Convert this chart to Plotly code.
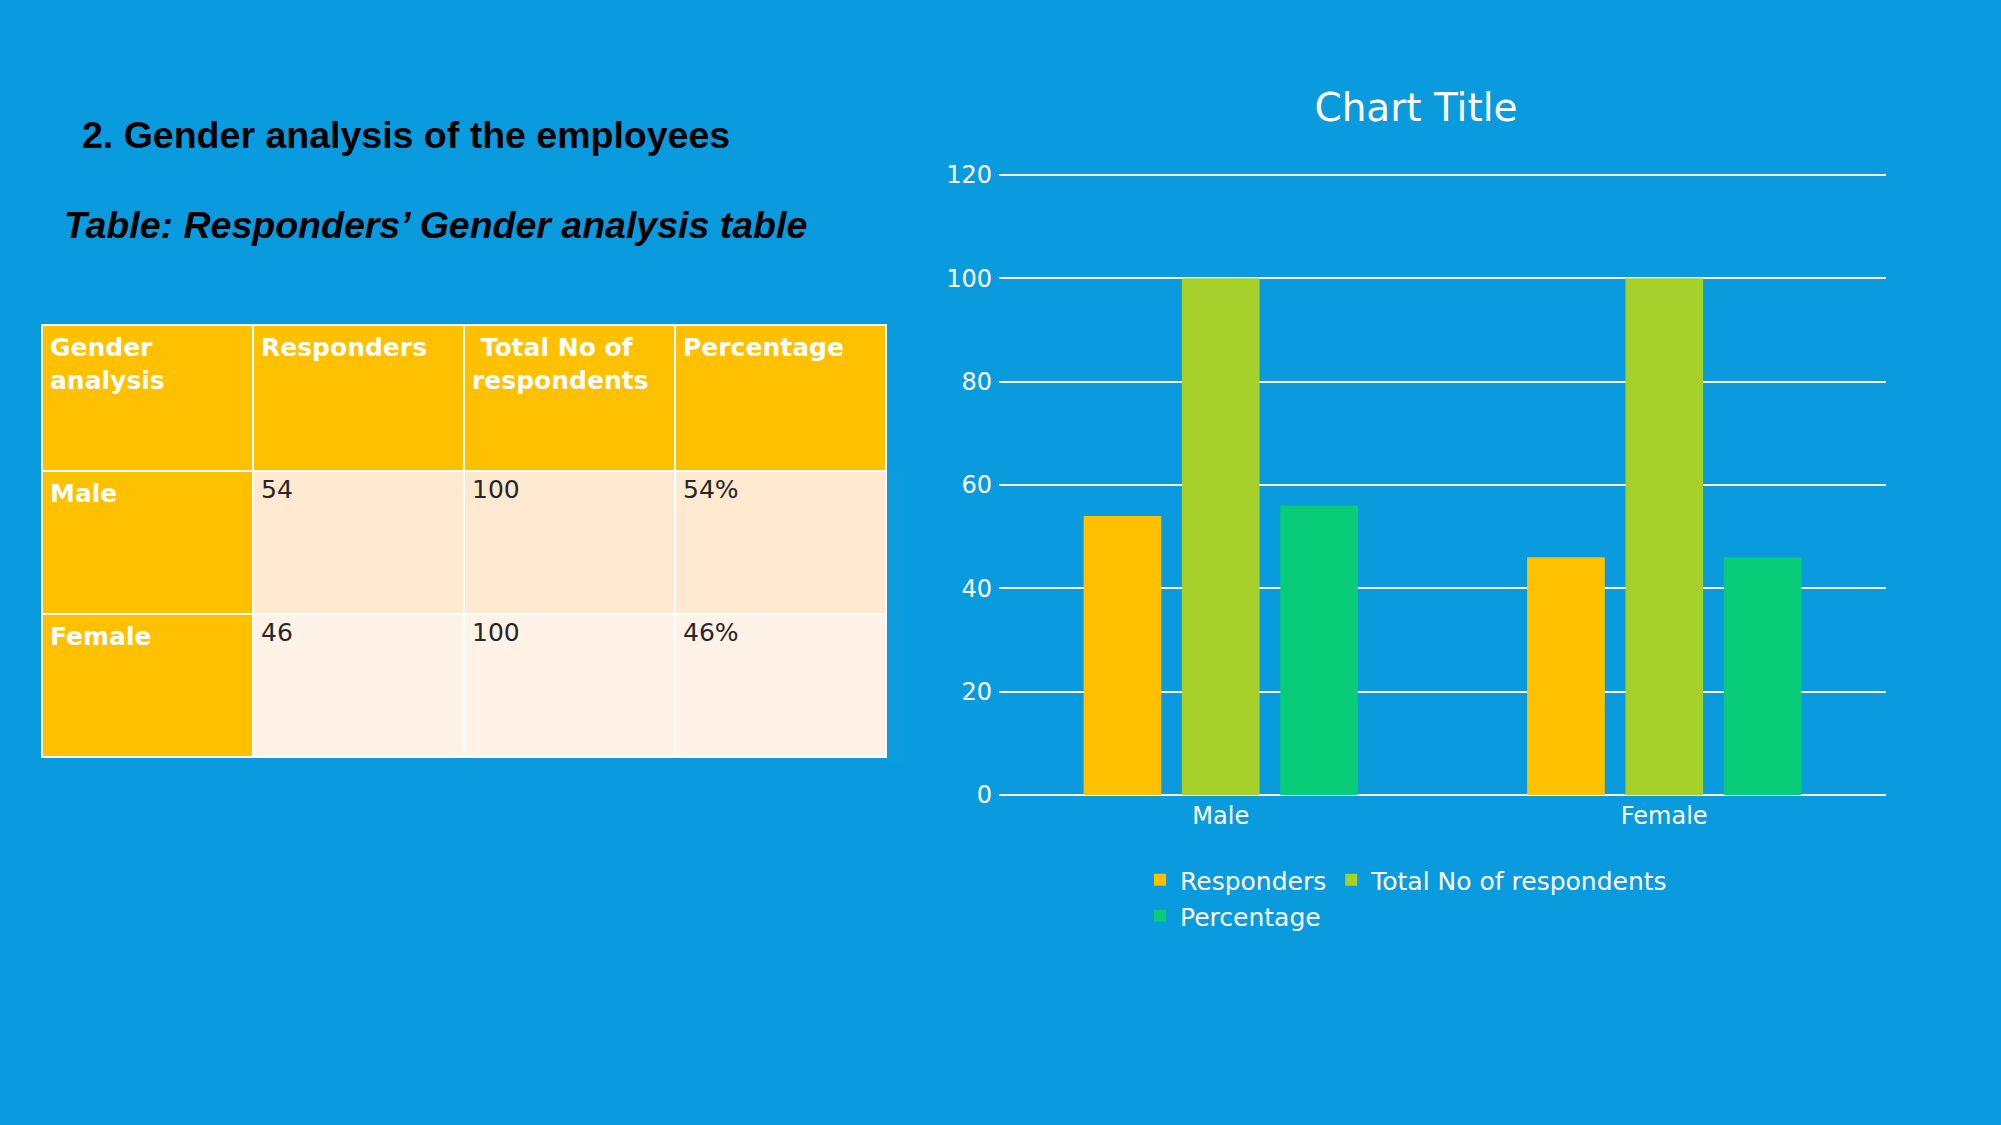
import plotly.graph_objects as go

# ---- data ----
categories = ["Male", "Female"]
responders = [54, 46]
total_respondents = [100, 100]
percentage = [56, 46]

table_header = ["Gender<br>analysis", "Responders", " Total No of<br>respondents", "Percentage"]
table_gender = ["Male", "Female"]
table_responders = ["54", "46"]
table_total = ["100", "100"]
table_percentage = ["54%", "46%"]

y_ticks = [0, 20, 40, 60, 80, 100, 120]

# ---- styles ----
W, H = 2001, 1125
BG = "#0A9BDE"
GOLD = "#FFC000"
LIME = "#A6D12A"
TEAL = "#08CC78"
ROW1 = "#FFE9D0"
ROW2 = "#FFF3E7"
FONT = "DejaVu Sans"


def px_x(x):
    return x / W


def px_y(y):
    return 1 - y / H


fig = go.Figure()

# Table
fig.add_trace(go.Table(
    domain=dict(x=[px_x(42), px_x(886)], y=[px_y(762), px_y(325)]),
    columnwidth=[1, 1, 1, 1],
    header=dict(
        values=["<b>%s</b>" % h for h in table_header],
        fill_color=GOLD,
        line=dict(color="white", width=2),
        font=dict(family=FONT, size=25, color="white"),
        align="left",
        height=146,
    ),
    cells=dict(
        values=[["<b>%s</b>" % g for g in table_gender], table_responders, table_total, table_percentage],
        fill_color=[[GOLD, GOLD], [ROW1, ROW2], [ROW1, ROW2], [ROW1, ROW2]],
        line=dict(color="white", width=2),
        font=dict(family=FONT, size=25,
                  color=[["white", "white"], ["#262626", "#262626"], ["#262626", "#262626"], ["#262626", "#262626"]]),
        align="left",
        height=143,
    ),
))

# Bars
fig.add_trace(go.Bar(name="Responders", x=categories, y=responders, marker_color=GOLD,
                     marker_line_width=0, legend="legend"))
fig.add_trace(go.Bar(name="Total No of respondents", x=categories, y=total_respondents, marker_color=LIME,
                     marker_line_width=0, legend="legend"))
fig.add_trace(go.Bar(name="Percentage", x=categories, y=percentage, marker_color=TEAL,
                     marker_line_width=0, legend="legend2"))

fig.update_layout(
    width=W, height=H,
    margin=dict(l=0, r=0, t=0, b=0, autoexpand=False),
    paper_bgcolor=BG, plot_bgcolor=BG,
    font=dict(family=FONT, color="white", size=24),
    barmode="group", bargap=0.335, bargroupgap=0.21,
    title=dict(text="Chart Title", x=px_x(1416), y=px_y(107), xanchor="center", yanchor="middle",
               font=dict(family=FONT, size=39, color="white")),
    xaxis=dict(domain=[px_x(999), px_x(1886)], showgrid=False, showline=False, ticks="",
               automargin=False, ticklabelstandoff=4,
               tickfont=dict(family=FONT, size=24, color="white")),
    yaxis=dict(domain=[px_y(795), px_y(175 - 620 / 120 * 0.6)], range=[0, 120.6], tickvals=y_ticks,
               showgrid=True, gridcolor="white", gridwidth=1.5,
               zeroline=True, zerolinecolor="white", zerolinewidth=1.5,
               showline=False, ticks="", ticklabelstandoff=6, automargin=False,
               tickfont=dict(family=FONT, size=24, color="white")),
    legend=dict(orientation="h", x=px_x(1140), y=px_y(880), xanchor="left", yanchor="middle",
                bgcolor="rgba(0,0,0,0)", font=dict(family=FONT, size=25, color="white"),
                traceorder="normal"),
    legend2=dict(orientation="h", x=px_x(1140), y=px_y(916), xanchor="left", yanchor="middle",
                 bgcolor="rgba(0,0,0,0)", font=dict(family=FONT, size=25, color="white")),
    showlegend=True,
)

fig.add_annotation(text="<b>2. Gender analysis of the employees</b>", x=px_x(80), y=px_y(135),
                   xref="paper", yref="paper", xanchor="left", yanchor="middle", showarrow=False,
                   font=dict(family="Liberation Sans", size=37.5, color="black"))
fig.add_annotation(text="<b><i>Table: Responders’ Gender analysis table</i></b>", x=px_x(62), y=px_y(225),
                   xref="paper", yref="paper", xanchor="left", yanchor="middle", showarrow=False,
                   font=dict(family="Liberation Sans", size=37.5, color="black"))

fig.write_html("out.html", config={"displayModeBar": False},
               post_script="document.body.style.margin='0';document.body.style.overflow='hidden';")
